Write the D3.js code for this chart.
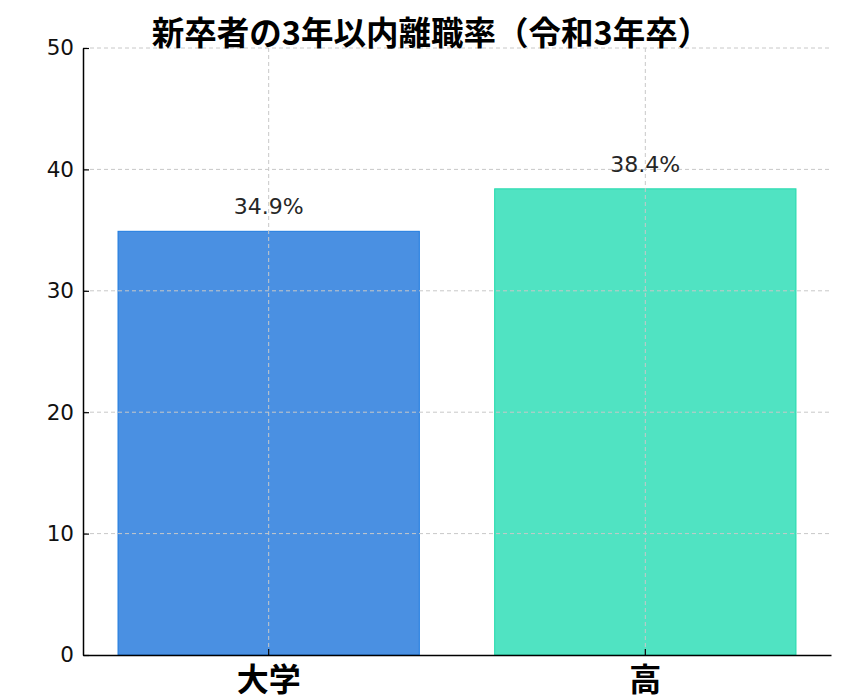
<!DOCTYPE html>
<html>
<head>
<meta charset="utf-8">
<script src="https://cdn.jsdelivr.net/npm/d3@7"></script>
<style>
  body { margin: 0; background: #fff; }
  svg { display: block; }
</style>
</head>
<body>
<div id="chart"></div>
<script>
const categories = ['大学', '高'];
const rates = [34.9, 38.4];
const barColors = ['#4A90E2', '#50E3C2'];
const edgeColors = ['#1E7BE0', '#24D9AD'];
const yTicks = [0, 10, 20, 30, 40, 50];
const title = '新卒者の3年以内離職率（令和3年卒）';

const WIDTH = 843, HEIGHT = 700;
const margin = { top: 48, right: 12, bottom: 45, left: 83 };
const innerW = WIDTH - margin.left - margin.right;
const innerH = HEIGHT - margin.top - margin.bottom;

const svg = d3.select('#chart').append('svg')
    .attr('width', WIDTH)
    .attr('height', HEIGHT);

const g = svg.append('g')
    .attr('transform', `translate(${margin.left},${margin.top})`);

// bar width 0.8 of a category step, small margin at each end
const x = d3.scaleBand()
    .domain(categories)
    .range([0, innerW])
    .paddingInner(0.2)
    .paddingOuter(0.093);

const y = d3.scaleLinear()
    .domain([0, 50])
    .range([innerH, 0]);

const data = categories.map((c, i) => ({ cat: c, v: rates[i], fill: barColors[i], edge: edgeColors[i] }));

g.selectAll('rect.bar')
    .data(data)
    .enter()
    .append('rect')
    .attr('class', 'bar')
    .attr('x', d => x(d.cat))
    .attr('y', d => y(d.v))
    .attr('width', x.bandwidth())
    .attr('height', d => innerH - y(d.v))
    .attr('fill', d => d.fill)
    .attr('stroke', d => d.edge)
    .attr('stroke-width', 1);

// grid on top of the bars
const grid = g.append('g').attr('class', 'grid');
grid.selectAll('line.h')
    .data(yTicks.filter(t => t > 0))
    .enter()
    .append('line')
    .attr('x1', 0)
    .attr('x2', innerW)
    .attr('y1', d => y(d))
    .attr('y2', d => y(d))
    .attr('stroke', '#c8c8c8')
    .attr('stroke-width', 1)
    .attr('stroke-dasharray', '4,3');

grid.selectAll('line.v')
    .data(categories)
    .enter()
    .append('line')
    .attr('x1', d => x(d) + x.bandwidth() / 2)
    .attr('x2', d => x(d) + x.bandwidth() / 2)
    .attr('y1', 0)
    .attr('y2', innerH)
    .attr('stroke', '#c8c8c8')
    .attr('stroke-width', 1)
    .attr('stroke-dasharray', '4,3');

// value labels
g.selectAll('text.val')
    .data(data)
    .enter()
    .append('text')
    .attr('class', 'val')
    .attr('x', d => x(d.cat) + x.bandwidth() / 2)
    .attr('y', d => y(d.v) - 17)
    .attr('text-anchor', 'middle')
    .attr('font-family', 'DejaVu Sans')
    .attr('font-size', 22)
    .attr('fill', '#262626')
    .text(d => d.v.toFixed(1) + '%');

// axes
const yAxis = g.append('g')
    .call(d3.axisLeft(y).tickValues(yTicks).tickSizeInner(-6).tickSizeOuter(0).tickPadding(9));
yAxis.select('.domain').attr('stroke', '#000').attr('stroke-width', 1.5);
yAxis.selectAll('.tick line').attr('stroke', '#000').attr('stroke-width', 1.2);
yAxis.selectAll('.tick text')
    .attr('font-family', 'DejaVu Sans')
    .attr('font-size', 21.5)
    .attr('fill', '#111');

const xAxis = g.append('g')
    .attr('transform', `translate(0,${innerH})`)
    .call(d3.axisBottom(x).tickSizeInner(-6).tickSizeOuter(0).tickPadding(8));
xAxis.select('.domain').attr('stroke', '#000').attr('stroke-width', 1.5);
xAxis.selectAll('.tick line').attr('stroke', '#000').attr('stroke-width', 1.2);
xAxis.selectAll('.tick text')
    .attr('font-family', '"Noto Sans CJK JP"')
    .attr('font-weight', 'bold')
    .attr('font-size', 32)
    .attr('fill', '#000')
    .attr('dy', '0.86em');

svg.append('text')
    .attr('x', 431)
    .attr('y', 45)
    .attr('text-anchor', 'middle')
    .attr('font-family', '"Noto Sans CJK JP"')
    .attr('font-weight', 'bold')
    .attr('font-size', 32.5)
    .attr('fill', '#000')
    .text(title);
</script>
</body>
</html>
